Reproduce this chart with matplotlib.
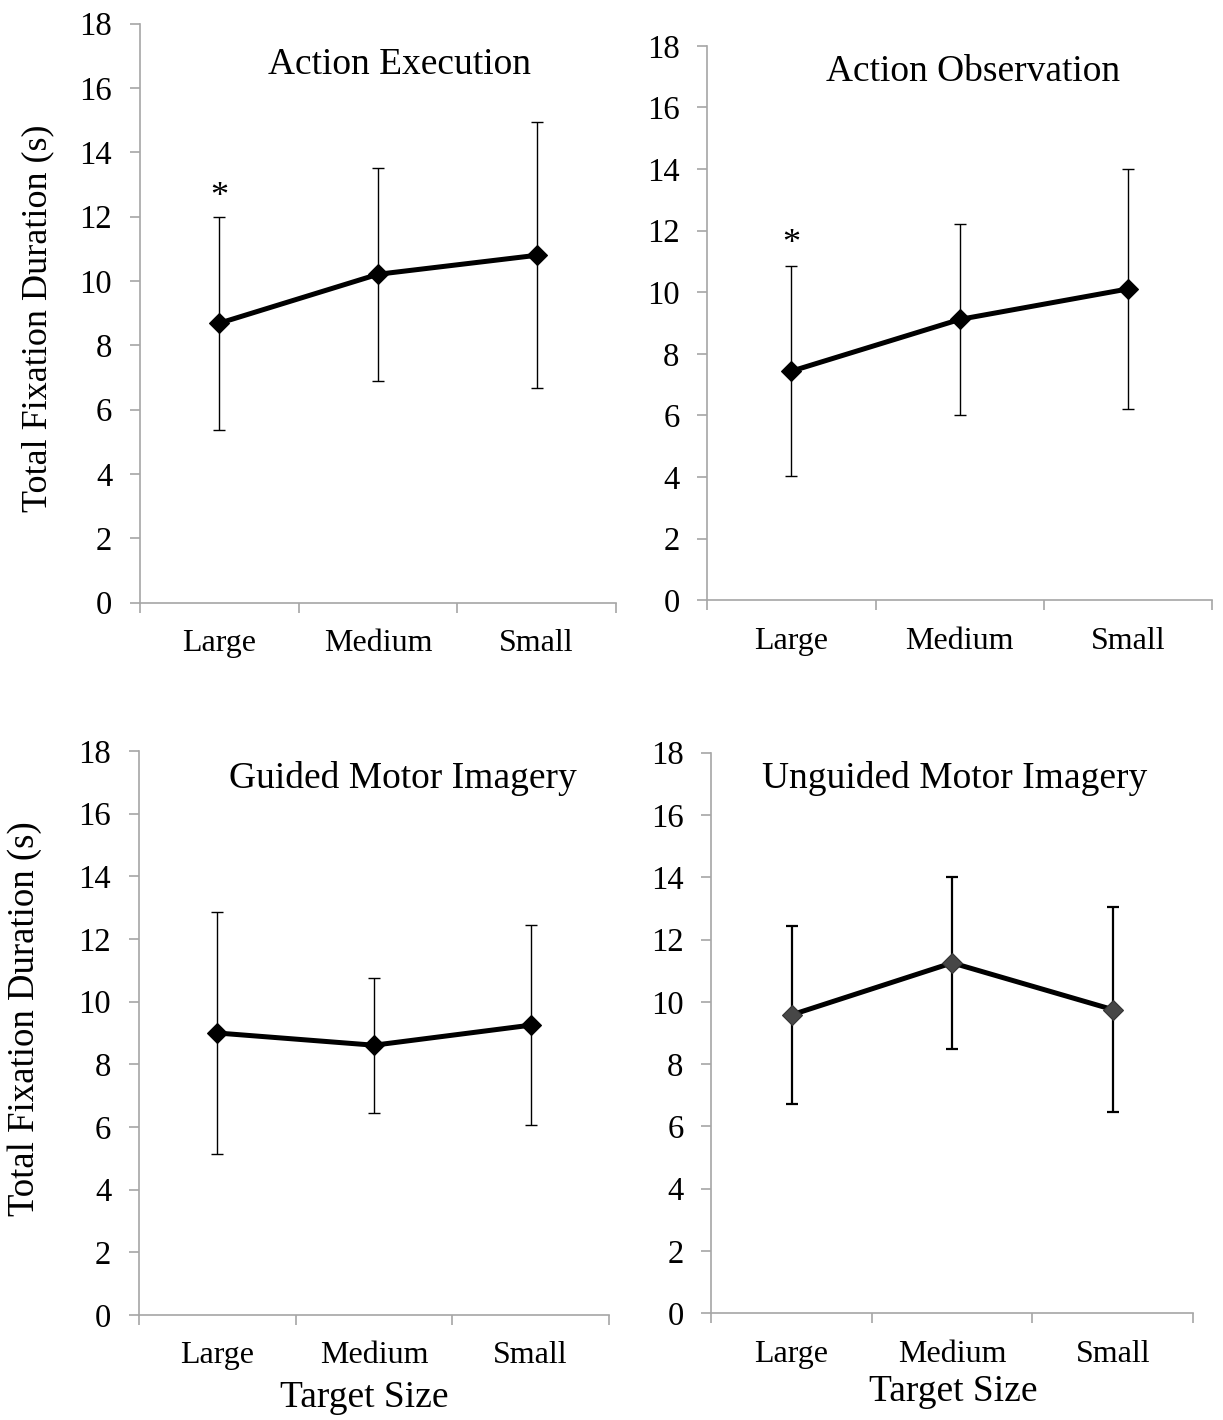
import numpy as np
import matplotlib
matplotlib.use("Agg")
import matplotlib.pyplot as plt

plt.rcParams['font.family'] = ['Liberation Serif', 'DejaVu Serif']

W, H = 1223, 1420
DPI = 100

sizes = ["Large", "Medium", "Small"]

titles = ["Action Execution", "Action Observation",
          "Guided Motor Imagery", "Unguided Motor Imagery"]

# means and error (SD) per condition
exec_mean = [8.69, 10.21, 10.80]
exec_err = [3.31, 3.31, 4.14]
obs_mean = [7.44, 9.12, 10.11]
obs_err = [3.41, 3.09, 3.90]
guided_mean = [9.00, 8.61, 9.25]
guided_err = [3.85, 2.16, 3.20]
unguided_mean = [9.58, 11.25, 9.75]
unguided_err = [2.85, 2.77, 3.29]

# significance marks (condition index, y position)
star_exec = (0, 12.6)
star_obs = (0, 11.55)

GRAY = "#a6a6a6"


def px_axes(fig, left, right, top, bottom):
	return fig.add_axes([left / W, 1 - bottom / H, (right - left) / W, (bottom - top) / H])


def setup(ax):
	ax.set_xlim(-0.5, 2.5)
	ax.set_ylim(0, 18)
	ax.set_yticks(np.arange(0, 19, 2))
	ax.set_xticks([0, 1, 2])
	ax.set_xticklabels(sizes)
	ax.set_xticks([-0.5, 0.5, 1.5, 2.5], minor=True)
	for s in ["top", "right"]:
		ax.spines[s].set_visible(False)
	for s in ["left", "bottom"]:
		ax.spines[s].set_color(GRAY)
		ax.spines[s].set_linewidth(1.2)
	ax.tick_params(axis="y", direction="out", length=7, width=1.2, color=GRAY,
		labelsize=23.5, pad=13)
	ax.tick_params(axis="x", which="major", length=0, labelsize=23, pad=19)
	ax.tick_params(axis="x", which="minor", direction="out", length=7, width=1.2, color=GRAY)


def draw(ax, mean, err, mcolor="black", elw=1.0):
	x = np.arange(len(mean))
	ax.errorbar(x, mean, yerr=err, fmt="none", ecolor="black", elinewidth=elw,
		capsize=4.5, capthick=elw, zorder=2)
	ax.plot(x, mean, color="black", lw=3.6, zorder=3)
	ax.plot(x, mean, ls="none", marker="D", ms=10, color=mcolor,
		mec="#333333" if mcolor != "black" else "black", mew=0.8, zorder=4)


fig = plt.figure(figsize=(W / DPI, H / DPI), dpi=DPI)

ax1 = px_axes(fig, 140, 616, 23.7, 602.7)
ax2 = px_axes(fig, 707.3, 1212.3, 45.9, 600.3)
ax3 = px_axes(fig, 139, 609, 751, 1315)
ax4 = px_axes(fig, 711.3, 1193, 752.6, 1313.3)

for ax in [ax1, ax2, ax3, ax4]:
	setup(ax)

draw(ax1, exec_mean, exec_err)
draw(ax2, obs_mean, obs_err)
draw(ax3, guided_mean, guided_err)
draw(ax4, unguided_mean, unguided_err, mcolor="#474747", elw=1.6)

ax1.text(star_exec[0], star_exec[1], "*", ha="center", va="center", fontsize=26)
ax2.text(star_obs[0], star_obs[1], "*", ha="center", va="center", fontsize=26)

title_pos = [(400, 65), (973, 72), (403, 778), (955, 778)]
for t, (x, y) in zip(titles, title_pos):
	fig.text(x / W, 1 - y / H, t, ha="center", va="center", fontsize=27)

fig.text(38 / W, 1 - 318 / H, "Total Fixation Duration (s)", rotation=90,
	ha="center", va="center", fontsize=26)
fig.text(25 / W, 1 - 1019 / H, "Total Fixation Duration (s)", rotation=90,
	ha="center", va="center", fontsize=26.5)
fig.text(364 / W, 1 - 1398 / H, "Target Size", ha="center", va="center", fontsize=27)
fig.text(953 / W, 1 - 1392 / H, "Target Size", ha="center", va="center", fontsize=27)

fig.savefig("out.png", dpi=DPI)
